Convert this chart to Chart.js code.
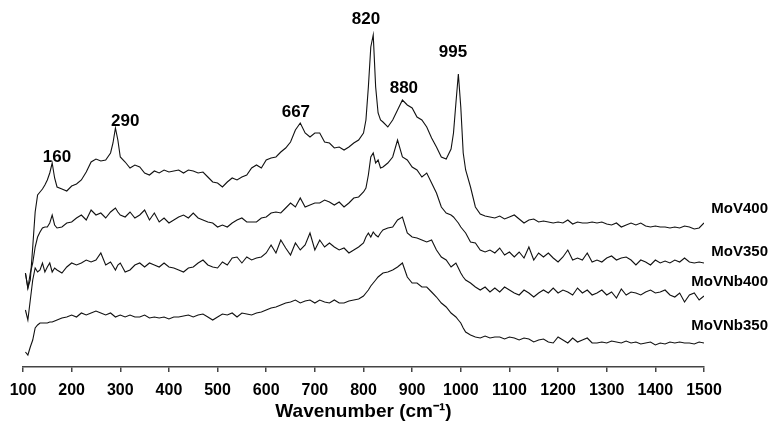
<!DOCTYPE html>
<html><head><meta charset="utf-8">
<script src="https://cdn.jsdelivr.net/npm/chart.js@4/dist/chart.umd.min.js"></script>
<style>html,body{margin:0;padding:0;background:#fff}#wrap{width:771px;height:431px}</style>
</head><body><div id="wrap"><canvas id="c" width="771" height="431"></canvas></div>
<script>
// Wavenumber (cm-1) sample positions shared by all spectra
const wavenumbers = [105,110,115,120,125,130,135,140,145,150,155,160,165,170,
180,190,200,210,220,230,240,250,260,270,280,
285,290,295,
300,310,320,330,340,350,360,370,380,390,400,410,420,430,440,450,460,470,480,490,500,510,520,530,540,550,560,570,580,590,600,610,620,630,640,650,660,670,680,690,700,710,720,730,740,750,760,770,780,790,800,
805,810,815,820,825,830,835,840,
850,860,870,880,890,900,910,920,930,940,950,960,970,980,
985,990,995,1000,1005,1010,
1020,1030,1040,1050,1060,1070,1080,1090,1100,1110,1120,1130,1140,1150,1160,1170,1180,1190,1200,1210,1220,1230,1240,1250,1260,1270,1280,1290,1300,1310,1320,1330,1340,1350,1360,1370,1380,1390,1400,1410,1420,1430,1440,1450,1460,1470,1480,1490,1500];

// Raman intensity (arbitrary units, stacked offsets as in the figure)
const MoV400 = [94,79,87,120,155,172,175,178,182,187,194,204,189,180,
178,176,181,183,187,195,205,208,206,207,214,
224,239,227,
210,205,199,202,200,194,192,196,194,197,195,196,197,194,197,196,194,195,190,185,184,180,185,189,187,190,192,199,202,199,207,209,210,215,219,225,237,244,234,230,234,234,225,224,219,220,217,220,224,227,234,
247,280,320,332,280,254,247,245,
240,247,257,267,262,259,250,247,240,229,220,210,208,218,
234,264,293,260,214,197,
180,160,153,151,150,149,151,148,150,152,148,144,147,148,145,146,145,144,145,144,147,143,145,144,144,145,144,145,143,142,144,140,142,144,142,144,141,140,141,140,140,139,140,139,141,140,138,139,144];

const MoV350 = [94,79,94,104,120,130,135,139,140,140,144,152,142,139,
140,144,145,149,152,147,157,152,154,149,155,
157,159,155,
152,150,155,149,152,157,147,154,145,149,144,147,150,152,149,154,149,147,145,144,140,142,140,144,147,149,145,145,145,149,150,154,155,154,159,164,160,169,160,162,164,164,167,165,162,165,160,164,169,170,175,
179,192,210,214,204,207,199,200,
204,210,227,210,207,200,197,190,194,184,174,160,154,152,
150,147,144,140,137,134,
125,124,117,115,117,114,119,112,115,110,115,109,120,107,114,110,114,109,105,110,117,107,109,107,114,105,107,105,109,111,107,109,110,107,102,107,105,102,107,104,106,104,107,105,109,105,104,105,104];

const MoVNb400 = [57,47,67,87,99,95,97,104,95,100,104,95,99,97,
94,100,104,102,104,107,105,107,114,102,105,
101,97,102,
104,95,97,102,104,100,104,102,100,104,100,99,97,95,99,100,104,107,102,100,99,105,102,109,110,104,110,107,109,110,114,122,114,127,119,112,124,117,122,134,117,127,120,124,120,117,119,114,117,120,124,
130,134,130,135,132,130,134,137,
139,140,147,150,134,130,129,127,125,127,117,110,107,100,
102,104,99,94,90,87,
84,80,77,80,75,79,75,80,77,74,72,77,74,70,74,77,74,79,74,77,75,72,79,74,77,72,74,77,72,75,69,78,72,75,74,72,75,77,74,75,77,72,70,74,65,72,74,67,71];

const MoVNb350 = [15,12,20,27,39,42,44,44,44,44,45,45,46,47,
49,50,52,50,54,52,54,56,54,52,54,
52,50,51,
52,50,52,50,50,52,49,50,49,50,48,50,50,51,52,50,52,53,50,47,50,53,52,54,50,54,53,52,54,55,57,59,60,62,64,65,67,64,66,67,64,67,65,64,67,64,64,66,67,68,71,
74,77,81,84,87,90,92,94,
95,97,100,104,90,84,84,80,80,75,70,64,60,54,
52,50,47,44,39,35,
32,30,29,31,29,30,30,28,30,29,27,29,28,25,27,28,25,24,30,27,24,29,25,27,29,24,24,25,24,26,25,24,26,24,25,23,24,25,22,24,23,25,24,25,24,24,23,25,24];

const seriesNames = ['MoV400','MoV350','MoVNb400','MoVNb350'];
const seriesValues = [MoV400, MoV350, MoVNb400, MoVNb350];
const seriesLabelLevel = [158,115,85,41];

const tickValues = [100,200,300,400,500,600,700,800,900,1000,1100,1200,1300,1400,1500];

const peakLabels = ['160','290','667','820','880','995'];
const peakLabelWn = [170,310,661,805,883,984];
const peakLabelLevel = [210,246,255,348,279,315];

const FONT = '"Liberation Sans", Arial, Helvetica, sans-serif';

const labelPlugin = {
  id: 'textLabels',
  afterDatasetsDraw(chart) {
    const {ctx} = chart;
    const x = chart.scales.x, y = chart.scales.y;
    ctx.save();
    ctx.fillStyle = '#000';
    ctx.textAlign = 'center';
    ctx.textBaseline = 'middle';
    ctx.font = 'bold 17px ' + FONT;
    peakLabels.forEach((t, i) => {
      ctx.fillText(t, x.getPixelForValue(peakLabelWn[i]), y.getPixelForValue(peakLabelLevel[i]));
    });
    ctx.textAlign = 'right';
    ctx.font = 'bold 15px ' + FONT;
    seriesNames.forEach((t, i) => {
      ctx.fillText(t, chart.width - 3, y.getPixelForValue(seriesLabelLevel[i]));
    });
    ctx.restore();
  }
};

new Chart(document.getElementById('c'), {
  type: 'line',
  data: {
    datasets: seriesValues.map((vals, k) => ({
      label: seriesNames[k],
      data: wavenumbers.map((w, i) => ({x: w, y: vals[i]})),
      borderColor: '#111',
      borderWidth: 1.1,
      pointRadius: 0,
      tension: 0,
      fill: false
    }))
  },
  options: {
    responsive: false,
    animation: false,
    events: [],
    layout: {padding: {left: 23, right: 67, top: 0, bottom: 0}},
    plugins: {legend: {display: false}, tooltip: {enabled: false}},
    scales: {
      x: {
        type: 'linear',
        min: 100, max: 1500,
        afterBuildTicks: s => { s.ticks = tickValues.map(v => ({value: v})); },
        afterFit: s => { s.height = 64; },
        grid: {display: true, drawOnChartArea: false, drawTicks: true, tickLength: 5, color: '#444', lineWidth: 1.5},
        border: {display: true, color: '#444', width: 1.5},
        ticks: {color: '#000', padding: 9, maxRotation: 0, autoSkip: false,
                callback: v => String(v),
                font: {family: FONT, size: 16, weight: 'bold'}},
        title: {display: true, text: 'Wavenumber (cm\u207B\u00B9)', color: '#000',
                font: {family: FONT, size: 19, weight: 'bold'}, padding: {top: 0, bottom: 8}}
      },
      y: {display: false, min: 0, max: 367}
    }
  },
  plugins: [labelPlugin]
});
</script>
</body></html>
